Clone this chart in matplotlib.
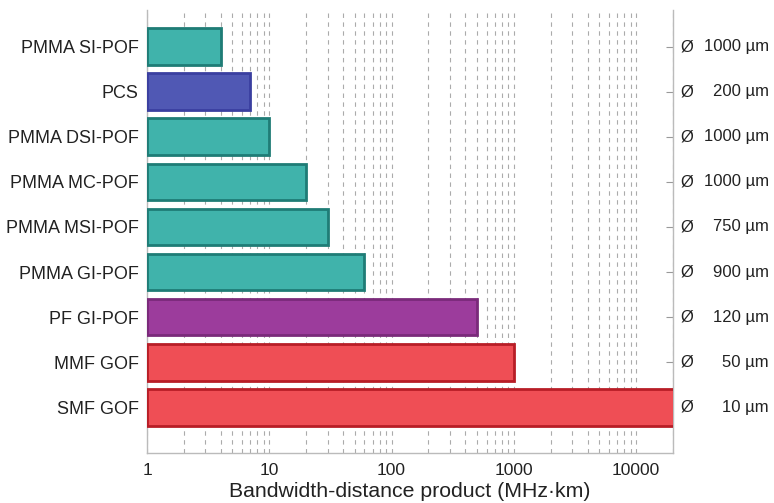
import matplotlib
matplotlib.use("Agg")
from matplotlib import pyplot as plt
from matplotlib.ticker import LogLocator, FixedLocator, NullFormatter
import matplotlib.transforms as mtransforms

plt.rcParams['font.family'] = ['Liberation Sans', 'DejaVu Sans']

# data, top to bottom
fibers = ["PMMA SI-POF", "PCS", "PMMA DSI-POF", "PMMA MC-POF", "PMMA MSI-POF",
          "PMMA GI-POF", "PF GI-POF", "MMF GOF", "SMF GOF"]
bandwidth = [4, 7, 10, 20, 30, 60, 500, 1000, 100000]
diameters = ["1000", "200", "1000", "1000", "750", "900", "120", "50", "10"]
kinds = ["pmma", "pcs", "pmma", "pmma", "pmma", "pmma", "pf", "gof", "gof"]

face = {"pmma": "#40b3ab", "pcs": "#5058b4", "pf": "#9c3c9c", "gof": "#ef4e55"}
edge = {"pmma": "#1f7c76", "pcs": "#3a3fa0", "pf": "#7a2a7a", "gof": "#b81d26"}

fig = plt.figure(figsize=(7.74, 5.03), dpi=100)
ax = fig.add_axes([147/774, 1 - 453/503, (673-147)/774, (453-10)/503])

y = list(range(len(fibers)))
for i in y:
    # bars start at 1 on the log axis
    ax.barh(i, bandwidth[i] - 1, left=1, height=0.82, color=face[kinds[i]],
            edgecolor=edge[kinds[i]], linewidth=2, zorder=3)

ax.set_xscale("log")
ax.set_xlim(1, 20000)
ax.set_ylim(len(fibers) - 1 + 1.02, -0.82)

ax.xaxis.set_major_locator(FixedLocator([1, 10, 100, 1000, 10000]))
ax.set_xticklabels(["1", "10", "100", "1000", "10000"])
ax.xaxis.set_minor_locator(LogLocator(base=10, subs=range(2, 10)))
ax.xaxis.set_minor_formatter(NullFormatter())
ax.tick_params(axis="x", which="both", length=0, labelsize=12.5, colors="#222222", pad=7)
ax.grid(True, axis="x", which="both", color="#ababab", linestyle=(0, (4, 4)),
        linewidth=0.8, zorder=0)

ax.set_yticks(y)
ax.set_yticklabels(fibers)
ax.tick_params(axis="y", which="both", left=False, right=True, direction="in",
               length=5, color="#999999", labelsize=13, labelcolor="#222222", pad=6)

ax.spines["top"].set_visible(False)
for s in ["left", "right", "bottom"]:
    ax.spines[s].set_color("#bbbbbb")
    ax.spines[s].set_linewidth(1)

trans = mtransforms.blended_transform_factory(fig.transFigure, ax.transData)
for i in y:
    ax.text(680/774, i, "\u00d8", transform=trans, ha="left", va="center",
            fontsize=12, color="#222222", clip_on=False)
    ax.text(769/774, i, diameters[i] + " \u00b5m", transform=trans, ha="right",
            va="center", fontsize=12, color="#222222", clip_on=False)

ax.set_xlabel("Bandwidth-distance product (MHz\u00b7km)", fontsize=15.3,
              color="#222222", labelpad=3)

fig.savefig("out.png", dpi=100)
